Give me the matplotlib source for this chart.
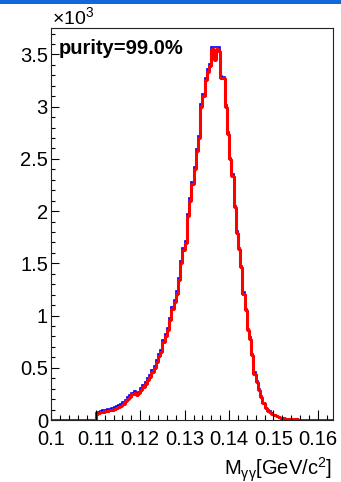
import numpy as np
import matplotlib
matplotlib.use("Agg")
import matplotlib.pyplot as plt
from matplotlib.patches import Rectangle
from matplotlib.ticker import MultipleLocator, FuncFormatter

plt.rcParams['font.family'] = ['Liberation Sans', 'DejaVu Sans']
plt.rcParams['mathtext.fontset'] = 'custom'
plt.rcParams['mathtext.rm'] = 'Liberation Sans'

# histogram binning: 0.0005 GeV/c^2 bins from 0.1
x_min = 0.1
x_max = 0.1635
n_bins = 127

# signal (red) counts per bin
signal = [
    0, 0, 0, 0, 0, 0, 0, 0, 0, 0,
    0, 0, 0, 0, 0, 0, 0, 0, 0, 0,
    55, 68, 76, 80, 84, 88, 92, 100, 110, 118,
    126, 138, 155, 178, 200, 220, 245, 258, 240, 255,
    285, 315, 345, 380, 410, 460, 500, 555, 610, 650,
    745, 800, 860, 960, 1060, 1130, 1210, 1340, 1500, 1630,
    1690, 1950, 2100, 2260, 2400, 2575, 2700, 3000, 3100, 3255,
    3335, 3385, 3555, 3450, 3555, 3530, 3270, 3270, 3000, 2740,
    2495, 2335, 2035, 1795, 1635, 1460, 1210, 1050, 860, 780,
    620, 445, 365, 285, 220, 160, 112, 90, 78, 60,
    48, 38, 28, 20, 15, 12, 10, 8, 7, 6,
    5, 4, 3, 3, 2, 2, 2, 1, 1, 1,
    1, 0, 0, 0, 0, 0, 0,
]

# background counts (blue minus red) per bin
background = [
    0, 0, 0, 0, 0, 0, 0, 0, 0, 0,
    0, 0, 0, 0, 0, 0, 0, 0, 0, 0,
    10, 12, 14, 12, 15, 14, 16, 15, 14, 16,
    15, 17, 16, 15, 18, 16, 15, 18, 20, 16,
    18, 16, 20, 18, 22, 20, 18, 22, 20, 24,
    20, 22, 18, 20, 22, 20, 24, 20, 22, 20,
    24, 20, 22, 20, 24, 22, 20, 24, 20, 22,
    24, 20, 15, 120, 15, 40, 20, 18, 20, 18,
    16, 18, 15, 16, 14, 15, 12, 14, 12, 10,
    12, 10, 8, 8, 6, 6, 5, 4, 4, 3,
    3, 2, 2, 2, 1, 1, 1, 1, 0, 0,
    0, 0, 0, 0, 0, 0, 0, 0, 0, 0,
    0, 0, 0, 0, 0, 0, 0,
]

x_ticks = [0.1, 0.11, 0.12, 0.13, 0.14, 0.15, 0.16]
y_ticks = [0, 500, 1000, 1500, 2000, 2500, 3000, 3500]

W, H = 341, 482


def setup_axes(fig: plt.Figure) -> plt.Axes:
    """Place the frame like the ROOT canvas and style ticks."""
    ax = fig.add_axes([51.4 / W, 1 - 420 / H, (333 - 51.4) / W, (420 - 28.3) / H])
    for s in ax.spines.values():
        s.set_linewidth(0.8)
        s.set_color('#222222')
    ax.set_xlim(x_min, 0.1634)
    ax.set_ylim(0, 3750)
    ax.set_xticks(x_ticks)
    ax.set_yticks(y_ticks)
    ax.xaxis.set_minor_locator(MultipleLocator(0.002))
    ax.yaxis.set_minor_locator(MultipleLocator(100))
    ax.xaxis.set_major_formatter(FuncFormatter(lambda v, p: f"{v:g}"))
    ax.yaxis.set_major_formatter(FuncFormatter(lambda v, p: f"{v / 1000:g}"))
    ax.tick_params(axis='x', which='major', direction='in', length=7.2, width=0.8,
                   labelsize=14.5, pad=7.5, top=False)
    ax.tick_params(axis='x', which='minor', direction='in', length=3.6, width=0.8, top=False)
    ax.tick_params(axis='y', which='major', direction='in', length=5.8, width=0.8,
                   labelsize=14.5, pad=2.5, right=False)
    ax.tick_params(axis='y', which='minor', direction='in', length=2.9, width=0.8, right=False)
    return ax


fig = plt.figure(figsize=(W / 100, H / 100), dpi=100)
fig.patches.append(Rectangle((0, 1 - 3.5 / H), 1, 3.5 / H, transform=fig.transFigure,
                             facecolor='#1467d6', edgecolor='none'))

ax = setup_axes(fig)
edges = np.linspace(x_min, x_max, n_bins + 1)
sig = np.array(signal, dtype=float)
total = sig + np.array(background, dtype=float)

ax.stairs(total, edges, color='#0000ff', linewidth=1.2, baseline=0)
ax.stairs(sig, edges, color='#ff0000', linewidth=2.2, baseline=0, joinstyle='bevel')

ax.text(59 / W, 1 - 54.5 / H, 'purity=99.0%', transform=fig.transFigure,
        fontsize=14.5, fontweight='bold', ha='left', va='baseline')
fig.text(52 / W, 1 - 25 / H, r'×10$^{\mathregular{3}}$', fontsize=14,
         ha='left', va='baseline')
fig.text(332 / W, 1 - 475 / H, r'M$_{\mathregular{γγ}}$[GeV/c$^{\mathregular{2}}$]',
         fontsize=14.5, ha='right', va='baseline')

fig.savefig('out.png', dpi=100)
plt.close(fig)
